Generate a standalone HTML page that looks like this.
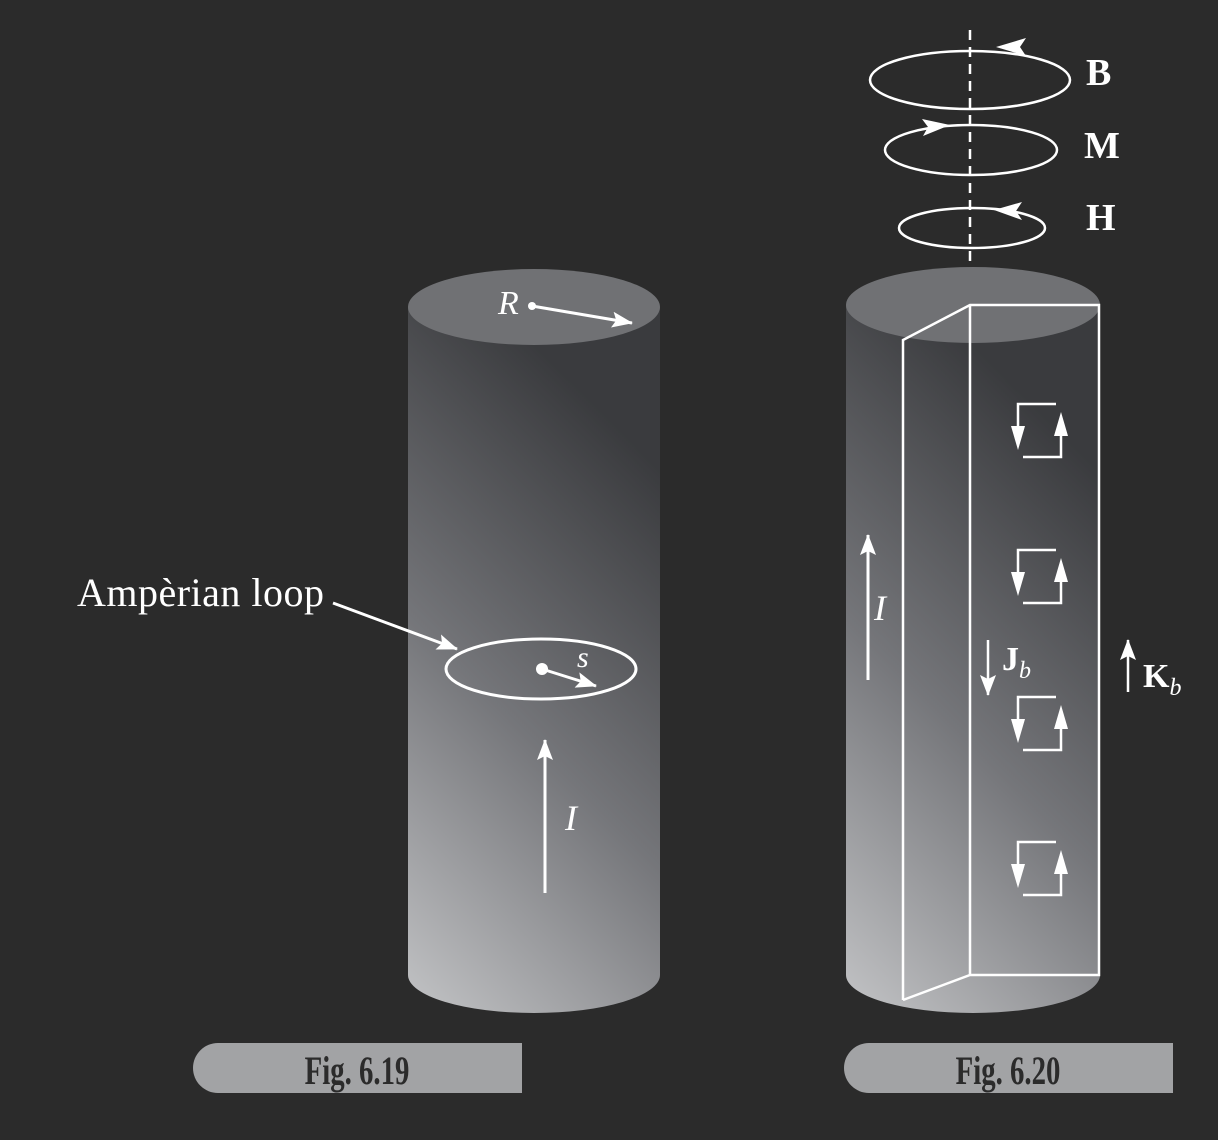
<!DOCTYPE html>
<html><head><meta charset="utf-8"><style>
html,body{margin:0;padding:0;background:#2b2b2b;}
svg{display:block}
text{font-family:"Liberation Serif",serif;}
</style></head><body>
<svg width="1218" height="1140" viewBox="0 0 1218 1140">
<defs>
<linearGradient id="g1" gradientUnits="userSpaceOnUse" x1="400" y1="1010" x2="800" y2="610">
<stop offset="0" stop-color="#c4c5c7"/><stop offset="0.5" stop-color="#75767a"/><stop offset="1" stop-color="#3a3b3e"/>
</linearGradient>
<linearGradient id="g2" gradientUnits="userSpaceOnUse" x1="838" y1="1010" x2="1238" y2="610">
<stop offset="0" stop-color="#c4c5c7"/><stop offset="0.5" stop-color="#75767a"/><stop offset="1" stop-color="#3a3b3e"/>
</linearGradient>
<marker id="ahb" markerWidth="22" markerHeight="16" refX="20" refY="8" orient="auto" markerUnits="userSpaceOnUse">
<path d="M0,0 L21,8 L0,16 L4,8 z" fill="#fff"/></marker>
</defs>
<rect width="1218" height="1140" fill="#2b2b2b"/>

<g>
<path d="M408,307 L408,975 A126,38 0 0 0 660,975 L660,307 Z" fill="url(#g1)"/>
<ellipse cx="534" cy="307" rx="126" ry="38" fill="#707174"/>
<text x="498" y="314" font-style="italic" font-size="34" fill="#fff">R</text>
<circle cx="532" cy="306" r="4" fill="#fff"/>
<line x1="532" y1="306" x2="632" y2="323" stroke="#fff" stroke-width="3" marker-end="url(#ahb)"/>
<ellipse cx="541" cy="669" rx="95" ry="30" fill="none" stroke="#fff" stroke-width="3"/>
<circle cx="542" cy="669" r="6" fill="#fff"/>
<line x1="542" y1="669" x2="596" y2="686" stroke="#fff" stroke-width="3" marker-end="url(#ahb)"/>
<text x="577" y="667" font-style="italic" font-size="30" fill="#fff">s</text>
<line x1="545" y1="893" x2="545" y2="740" stroke="#fff" stroke-width="3" marker-end="url(#ahb)"/>
<text x="565" y="830" font-style="italic" font-size="36" fill="#fff">I</text>
</g>
<text x="77" y="606" font-size="40" textLength="247" fill="#fff">Ampèrian loop</text>
<line x1="333" y1="603" x2="457" y2="649" stroke="#fff" stroke-width="3" marker-end="url(#ahb)"/>

<g>
<path d="M846,305 L846,975 A127,38 0 0 0 1100,975 L1100,305 Z" fill="url(#g2)"/>
<ellipse cx="973" cy="305" rx="127" ry="38" fill="#707174"/>
<g fill="none" stroke="#fff" stroke-width="2.5">
<polyline points="903,1000 903,340 970,305 1099,305 1099,975 970,975 903,1000"/>
<line x1="970" y1="305" x2="970" y2="975"/>
</g>
<line x1="868" y1="680" x2="868" y2="535" stroke="#fff" stroke-width="3" marker-end="url(#ahb)"/>
<text x="874" y="620" font-style="italic" font-size="36" fill="#fff">I</text>
<line x1="988" y1="640" x2="988" y2="695" stroke="#fff" stroke-width="2.5" marker-end="url(#ahb)"/>
<text x="1002" y="670" font-weight="bold" font-size="34" fill="#fff">J<tspan font-style="italic" font-weight="normal" font-size="24" dy="8">b</tspan></text>
<g id="loops" stroke="#fff" stroke-width="2.5" fill="none"></g>
</g>
<line x1="1128" y1="692" x2="1128" y2="640" stroke="#fff" stroke-width="2.5" marker-end="url(#ahb)"/>
<text x="1143" y="687" font-weight="bold" font-size="34" fill="#fff">K<tspan font-style="italic" font-weight="normal" font-size="24" dy="8">b</tspan></text>

<g fill="none" stroke="#fff" stroke-width="2.5">
<ellipse cx="970" cy="80" rx="100" ry="29"/>
<ellipse cx="971" cy="150" rx="86" ry="25"/>
<ellipse cx="972" cy="228" rx="73" ry="20"/>
<line x1="970" y1="30" x2="970" y2="262" stroke-dasharray="10,7"/>
</g>
<path d="M996,47 l30,-9 l-6,9 l6,9 z" fill="#fff"/>
<path d="M950,125 l-28,-6 l6,8 l-5,9 z" fill="#fff"/>
<path d="M994,210 l28,-8 l-6,9 l6,9 z" fill="#fff"/>
<g font-weight="bold" font-size="38" fill="#fff">
<text x="1086" y="85">B</text>
<text x="1084" y="158">M</text>
<text x="1086" y="230">H</text>
</g>

<g>
<path d="M218,1043 L522,1043 L522,1093 L218,1093 A25,25 0 0 1 218,1043 Z" fill="#a2a3a5"/>
<text x="357" y="1084" text-anchor="middle" font-family="Liberation Sans Narrow,Liberation Sans,sans-serif" font-weight="bold" font-size="40" fill="#2b2b2b" transform="translate(357 0) scale(0.72 1) translate(-357 0)">Fig. 6.19</text>
</g>
<g>
<path d="M869,1043 L1173,1043 L1173,1093 L869,1093 A25,25 0 0 1 869,1043 Z" fill="#a2a3a5"/>
<text x="1008" y="1084" text-anchor="middle" font-family="Liberation Sans Narrow,Liberation Sans,sans-serif" font-weight="bold" font-size="40" fill="#2b2b2b" transform="translate(1008 0) scale(0.72 1) translate(-1008 0)">Fig. 6.20</text>
</g>
</svg>
<script>
const loopTops=[404,550,697,842];
const g=document.getElementById('loops');
const ns='http://www.w3.org/2000/svg';
loopTops.forEach(function(y){
  const p=document.createElementNS(ns,'path');
  p.setAttribute('d','M1018,'+(y+25)+' L1018,'+y+' L1056,'+y+' M1061,'+(y+28)+' L1061,'+(y+53)+' L1023,'+(y+53));
  
  
  g.appendChild(p);
  const a1=document.createElementNS(ns,'path');
  a1.setAttribute('d','M1011,'+(y+22)+' L1025,'+(y+22)+' L1018,'+(y+46)+' Z');
  a1.setAttribute('fill','#fff');a1.setAttribute('stroke','none');
  
  
  g.appendChild(a1);
  const a2=document.createElementNS(ns,'path');
  a2.setAttribute('d','M1054,'+(y+32)+' L1068,'+(y+32)+' L1061,'+(y+8)+' Z');
  a2.setAttribute('fill','#fff');a2.setAttribute('stroke','none');
  
  
  g.appendChild(a2);
});
</script>
</body></html>
